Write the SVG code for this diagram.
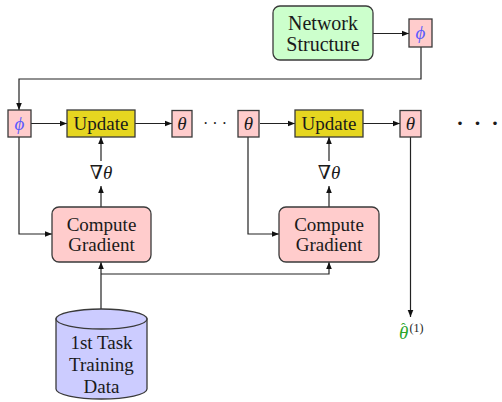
<svg xmlns="http://www.w3.org/2000/svg" width="502" height="402" viewBox="0 0 502 402">
<defs>
<marker id="arr" viewBox="0 0 10 10" refX="10" refY="5" markerWidth="7" markerHeight="7" markerUnits="userSpaceOnUse" orient="auto">
<path d="M0,1 L10,5 L0,9 Z" fill="#111"/>
</marker>
<style>
.t{font-family:'Liberation Serif','Times New Roman','DejaVu Serif',serif;font-size:19px;fill:#1a1a1a;text-anchor:middle}
.m{font-style:italic}
.box{stroke:#3a3a3a;stroke-width:1.3}
.pink{fill:#ffcccc}
.green{fill:#ccffcc}
.yellow{fill:#e6d620}
.blue{fill:#ccccff}
.ca{fill:none;stroke:#222;stroke-width:1.2;marker-end:url(#arr)}
.phi{fill:#5a5aff;font-style:italic}
</style>
</defs>

<g id="connectors">
<line class="ca" x1="373" y1="33.5" x2="409" y2="33.5"/>
<path class="ca" d="M421,47 V79 H19 V110"/>
<line class="ca" x1="31" y1="123.5" x2="67" y2="123.5"/>
<line class="ca" x1="135" y1="123.5" x2="172" y2="123.5"/>
<line class="ca" x1="260" y1="123.5" x2="295" y2="123.5"/>
<line class="ca" x1="363" y1="123.5" x2="400" y2="123.5"/>
<line class="ca" x1="101" y1="161" x2="101" y2="137"/>
<line class="ca" x1="101" y1="207" x2="101" y2="186"/>
<line class="ca" x1="329" y1="161" x2="329" y2="137"/>
<line class="ca" x1="329" y1="207" x2="329" y2="186"/>
<path class="ca" d="M19,137 V234 H52"/>
<path class="ca" d="M248,137 V234 H279"/>
<line class="ca" x1="410.5" y1="137" x2="410.5" y2="317"/>
<line class="ca" x1="101" y1="309" x2="101" y2="262"/>
<path class="ca" d="M101,274 H329 V262"/>
</g>

<g id="network-structure">
<rect class="box green" x="273" y="6" width="100" height="54" rx="7"/>
<text class="t" x="323" y="29.5" style="font-size:20px">Network</text>
<text class="t" x="323" y="50.5" style="font-size:20px">Structure</text>
</g>

<g id="phi-top">
<rect class="box pink" x="409" y="19" width="23" height="28"/>
<text class="t phi" x="420.5" y="39">ϕ</text>
</g>

<g id="phi-left">
<rect class="box pink" x="8" y="110" width="23" height="27"/>
<text class="t phi" x="19.5" y="129.5">ϕ</text>
</g>

<g id="update-1">
<rect class="box yellow" x="67" y="110" width="68" height="27"/>
<text class="t" x="101" y="129.5">Update</text>
</g>

<g id="theta-1">
<rect class="box pink" x="172" y="110.5" width="20" height="26.5"/>
<text class="t m" x="182" y="129.5">θ</text>
</g>

<g id="dots-small">
<text class="t" x="215" y="129" style="font-size:16px">· · ·</text>
</g>

<g id="theta-2">
<rect class="box pink" x="238" y="110.5" width="21" height="26.5"/>
<text class="t m" x="248.5" y="129.5">θ</text>
</g>

<g id="update-2">
<rect class="box yellow" x="295" y="110" width="68" height="27"/>
<text class="t" x="329" y="129.5">Update</text>
</g>

<g id="theta-3">
<rect class="box pink" x="400" y="110.5" width="21" height="26.5"/>
<text class="t m" x="410.5" y="129.5">θ</text>
</g>

<g id="dots-large">
<text class="t" x="500" y="133" style="font-size:30px;text-anchor:end">· · ·</text>
</g>

<g id="grad-1">
<text class="t" x="101" y="179">∇<tspan class="m">θ</tspan></text>
</g>

<g id="grad-2">
<text class="t" x="329" y="179">∇<tspan class="m">θ</tspan></text>
</g>

<g id="compute-1">
<rect class="box pink" x="52" y="207" width="99" height="55" rx="7"/>
<text class="t" x="101.5" y="231">Compute</text>
<text class="t" x="101.5" y="251">Gradient</text>
</g>

<g id="compute-2">
<rect class="box pink" x="279" y="207" width="100" height="55" rx="7"/>
<text class="t" x="329" y="231">Compute</text>
<text class="t" x="329" y="251">Gradient</text>
</g>

<g id="training-data">
<path class="box blue" d="M56,319 V389 A45.5,10 0 0,0 147,389 V319 Z"/>
<ellipse class="box blue" cx="101.5" cy="319" rx="45.5" ry="10"/>
<text class="t" x="101.5" y="349">1st Task</text>
<text class="t" x="101.5" y="371">Training</text>
<text class="t" x="101.5" y="393">Data</text>
</g>

<g id="theta-hat">
<text class="t" x="399" y="339" style="text-anchor:start"><tspan class="m" style="fill:#2aa62a">θ</tspan><tspan x="401" y="333" style="fill:#2aa62a;font-size:14px">ˆ</tspan><tspan x="409.5" y="332" style="font-size:12px">(1)</tspan></text>
</g>
</svg>
